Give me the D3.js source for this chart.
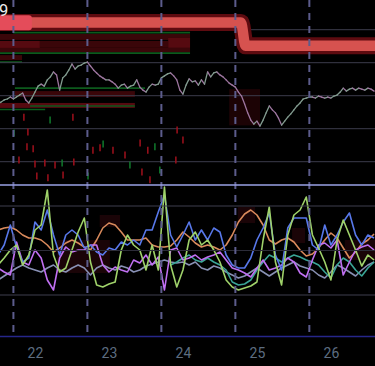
<!DOCTYPE html>
<html><head><meta charset="utf-8">
<script src="https://cdn.jsdelivr.net/npm/d3@7"></script>
<style>html,body{margin:0;padding:0;background:#000;overflow:hidden}svg{display:block}</style>
</head><body><svg id="c" width="375" height="366"></svg>
<script>
// ---------- DATA ----------
// time is in hours counted from day 21, 00:00
const dayLabels = ["22","23","24","25","26"];
const dayTicks = [24, 48, 72, 96, 120];
const sessionOpens = [17, 41, 65, 89, 113];
const lastLabel = "9";

// price (hourly, starting at hour 12)
const priceStartHour = 12;
const price = [5218.5,5219.1,5219.7,5220.0,5220.6,5220.0,5220.6,5221.2,5221.8,5219.7,
5218.8,5220.3,5222.1,5223.9,5224.5,5223.9,5225.8,5226.7,5228.2,5227.3,
5222.7,5226.4,5227.3,5228.8,5230.6,5229.1,5230.0,5230.3,5230.9,5231.2,
5230.0,5228.8,5227.9,5227.0,5226.4,5225.8,5225.8,5225.2,5224.5,5223.3,
5224.2,5224.5,5223.3,5223.9,5224.2,5225.8,5223.6,5222.7,5222.1,5223.6,
5224.5,5224.2,5224.5,5226.4,5227.0,5227.6,5227.9,5227.0,5225.8,5222.7,
5221.5,5224.2,5226.1,5225.2,5225.5,5224.2,5225.8,5224.5,5228.2,5226.7,
5227.9,5228.2,5227.3,5226.7,5225.8,5224.8,5224.2,5223.6,5222.1,5220.9,
5218.5,5215.8,5213.6,5212.4,5213.3,5211.8,5213.6,5215.8,5217.9,5216.7,
5215.8,5214.2,5212.1,5213.3,5214.5,5215.5,5216.7,5217.9,5218.8,5220.0,
5220.3,5220.6,5220.6,5220.3,5220.9,5220.6,5220.3,5220.6,5220.3,5220.9,
5221.2,5222.1,5223.3,5222.4,5223.0,5223.3,5222.7,5223.3,5223.0,5222.7,
5223.3,5223.0,5222.4];

// key level (thick red line)
const levelHours = [12, 90.8, 92.3, 135];
const levelPrices = [5243.2, 5243.2, 5236.1, 5236.1];
const hotLevel = [12, 23, 5240.8, 5245.4];

// order-book bands: [startHour, endHour, lowPrice, highPrice, strength]
const askBands = [
  [12, 74.3, 5237.9, 5239.7, 1],
  [12, 25.6, 5234.2, 5237.6, 2],
  [25.6, 67.2, 5235.5, 5237.6, 1],
  [12, 74.3, 5234.2, 5235.5, 1],
  [12, 19.8, 5231.8, 5233.3, 1],
  [67.2, 74.3, 5235.5, 5238.5, 2],
  [17.5, 56.4, 5220.6, 5222.4, 1],
  [12, 56.4, 5217.3, 5218.8, 2],
  [87, 97, 5212, 5223, 0]
];
// bid lines: [startHour, endHour, price]
const bidLines = [
  [16.9, 74.3, 5240.1],
  [12, 74.3, 5233.9],
  [12, 19.8, 5231.2],
  [70, 74.3, 5242.7],
  [17.5, 59.7, 5223.3],
  [12, 27.3, 5216.8],
  [22.4, 56.4, 5217.9]
];
// trade prints: [hour, price, side]
const prints = [
  [20.4,5214.5,"s"],[21.7,5210.0,"s"],[17.2,5209.7,"b"],[21.4,5205.5,"s"],[23.4,5204.9,"s"],
  [18.8,5201.5,"s"],[24.0,5200.3,"s"],[27.2,5200.6,"s"],[30.5,5200.0,"s"],[32.8,5200.6,"b"],
  [36.6,5200.9,"s"],[42.8,5204.5,"s"],[45.1,5205.2,"s"],[46.1,5206.4,"b"],[49.3,5204.5,"s"],
  [58.1,5206.7,"s"],[60.6,5204.5,"s"],[62.9,5205.5,"b"],[70.1,5210.6,"s"],[72.0,5207.6,"s"],
  [24.6,5196.7,"s"],[28.2,5196.1,"s"],[33.1,5197.0,"s"],[41.2,5196.7,"b"],[58.7,5197.9,"s"],
  [61.3,5195.5,"s"],[36.3,5214.5,"s"],[28.9,5213.6,"b"],[69.7,5201.5,"s"],[64.5,5198.5,"b"],
  [53.2,5203.0,"s"],[54.8,5200.0,"b"]
];

// oscillators (every 2 hours, starting at hour 12)
const oscStartHour = 12;
const oscGreen  = [30,37,45,50,30,40,65,70,105,40,23,27,45,63,77,33,10,8,11,13,45,60,50,45,25,50,25,108,30,8,25,55,63,50,55,45,33,15,8,5,7,9,13,55,88,33,10,60,80,85,98,60,47,33,15,55,75,60,45,29,40,35];
const oscBlue   = [40,50,70,48,33,37,73,65,85,60,40,60,65,60,47,50,43,40,47,45,53,50,55,50,65,65,83,100,60,48,60,73,55,65,55,67,63,40,30,27,27,37,55,67,82,40,25,67,77,77,77,50,45,70,50,60,73,82,60,50,60,57];
const oscOrange = [65,67,68,65,60,57,57,55,50,43,47,52,55,52,48,45,55,67,72,70,63,55,55,55,57,50,48,48,49,55,63,58,52,48,50,48,45,50,60,73,81,85,80,70,55,51,55,57,53,45,39,41,47,55,62,57,47,37,43,51,55,61];
const oscPurple = [27,23,20,53,33,30,45,37,15,5,37,48,43,45,45,50,50,30,23,28,25,23,35,32,40,30,38,5,45,47,35,37,40,35,38,40,43,35,27,25,22,18,27,35,25,27,30,37,33,22,18,35,50,52,47,55,20,33,45,48,50,45];
const oscGray   = [15,19,23,27,30,27,25,23,27,30,25,23,27,30,27,20,27,30,27,25,29,27,23,25,29,31,33,35,33,32,33,30,33,27,25,29,27,23,20,17,19,23,27,23,19,23,27,30,33,29,27,25,20,17,23,30,27,23,19,25,30,33];
const tealStartHour = 68;
const oscTeal   = [30,33,37,40,35,33,37,33,30,25,13,10,11,15,25,33,40,37,33,37,40,38,35,33,30,23,17,30,37,33,25,19,27,33];
// dim zones in oscillator panel: [startHour, endHour, low, high]
const oscZones = [[31.1,48.3,22,55],[45,51.6,68,80],[89.8,95.4,72,88],[107.4,111.6,52,67],[124.5,134.3,35,55]];
const priceGrid = [5241, 5231, 5221, 5211, 5201];
const oscGrid = [89, 44.5, 0];

// ---------- DRAW ----------
const W = 375, H = 366;
const svg = d3.select("#c");
svg.append("rect").attr("width", W).attr("height", H).attr("fill", "#000");

const x = d3.scaleLinear().domain([12.65, 134.3]).range([0, W]);
const y = d3.scaleLinear().domain([5194, 5250]).range([184.8, 0]);
const yo = d3.scaleLinear().domain([0, 110]).range([295, 185]);

const defs = svg.append("defs");
defs.append("clipPath").attr("id","clipTop").append("rect").attr("x",0).attr("y",0).attr("width",W).attr("height",185);
defs.append("clipPath").attr("id","clipBot").append("rect").attr("x",0).attr("y",185).attr("width",W).attr("height",110);

const gTop = svg.append("g").attr("clip-path","url(#clipTop)");
const gBot = svg.append("g").attr("clip-path","url(#clipBot)");

// bands
const bandColor = ["#1c0305","#3a0609","#560a10"];
gTop.selectAll("rect.ask").data(askBands).join("rect")
  .attr("x", d => x(d[0])).attr("width", d => x(d[1]) - x(d[0]))
  .attr("y", d => y(d[3])).attr("height", d => y(d[2]) - y(d[3]))
  .attr("fill", d => bandColor[d[4]]);
gTop.selectAll("line.bid").data(bidLines).join("line")
  .attr("x1", d => x(d[0])).attr("x2", d => x(d[1]))
  .attr("y1", d => y(d[2])).attr("y2", d => y(d[2]))
  .attr("stroke", "#0c5a1c").attr("stroke-width", 1.6);

// grid
gTop.selectAll("line.g").data(priceGrid).join("line")
  .attr("x1",0).attr("x2",W).attr("y1",d=>y(d)).attr("y2",d=>y(d))
  .attr("stroke","#3c3c4c").attr("stroke-width",1);
gBot.selectAll("rect.z").data(oscZones).join("rect")
  .attr("x", d => x(d[0])).attr("width", d => x(d[1]) - x(d[0]))
  .attr("y", d => yo(d[3])).attr("height", d => yo(d[2]) - yo(d[3]))
  .attr("fill", "#1a0407");
svg.append("g").selectAll("line").data(oscGrid).join("line")
  .attr("x1",0).attr("x2",W).attr("y1",d=>yo(d)).attr("y2",d=>yo(d))
  .attr("stroke",(d,i)=> i===1 ? "#2c2c38" : "#3e3e4e").attr("stroke-width",1);

// session dashed lines
svg.append("g").selectAll("line").data(sessionOpens).join("line")
  .attr("x1",d=>x(d)).attr("x2",d=>x(d)).attr("y1",0).attr("y2",336)
  .attr("stroke","#5c5c8c").attr("stroke-width",2).attr("stroke-dasharray","7,6");

// key level
const levelData = levelHours.map((h,i)=>[h, levelPrices[i]]);
const lvl = d3.line().x(d=>x(d[0])).y(d=>y(d[1])).curve(d3.curveMonotoneX);
gTop.append("path").attr("d", lvl(levelData)).attr("fill","none")
  .attr("stroke","#5e0b10").attr("stroke-width",17);
gTop.append("path").attr("d", lvl(levelData)).attr("fill","none")
  .attr("stroke","#d6524f").attr("stroke-width",10.5);
gTop.append("rect").attr("x", x(hotLevel[0])).attr("width", x(hotLevel[1]) - x(hotLevel[0]))
  .attr("y", y(hotLevel[3])).attr("height", y(hotLevel[2]) - y(hotLevel[3]))
  .attr("rx", 3).attr("fill", "#e44c5a");

// price line, segment coloured
const pts = price.map((p,i)=>[priceStartHour + i, p]);
gTop.append("g").selectAll("line").data(d3.pairs(pts)).join("line")
  .attr("x1",d=>x(d[0][0])).attr("y1",d=>y(d[0][1]))
  .attr("x2",d=>x(d[1][0])).attr("y2",d=>y(d[1][1]))
  .attr("stroke",d=> d[1][1] >= d[0][1] ? "#839c90" : "#9e76a0")
  .attr("stroke-width",1.3).attr("stroke-linecap","round");

// prints
gTop.append("g").selectAll("line").data(prints).join("line")
  .attr("x1",d=>x(d[0])).attr("x2",d=>x(d[0]))
  .attr("y1",d=>y(d[1])-3.5).attr("y2",d=>y(d[1])+3.5)
  .attr("stroke",d=>d[2]==="s" ? "#a0101c" : "#107a2c").attr("stroke-width",1.5);

// separator line
svg.append("line").attr("x1",0).attr("x2",W).attr("y1",yo(110)).attr("y2",yo(110))
  .attr("stroke","#9aa2e6").attr("stroke-width",1.6);

// oscillators
const oscLine = d3.line().x(d=>x(d[0])).y(d=>yo(d[1]));
const series = [
  {v: oscGray, c: "#8890b4", s: oscStartHour},
  {v: oscTeal, c: "#3aa596", s: tealStartHour},
  {v: oscOrange, c: "#d98a5c", s: oscStartHour},
  {v: oscPurple, c: "#c070f2", s: oscStartHour},
  {v: oscBlue, c: "#5878ea", s: oscStartHour},
  {v: oscGreen, c: "#9fd26a", s: oscStartHour}
];
series.forEach(sr => {
  gBot.append("path").attr("d", oscLine(sr.v.map((v,i)=>[sr.s + 2*i, v])))
    .attr("fill","none").attr("stroke",sr.c).attr("stroke-width",1.6).attr("stroke-linejoin","round");
});

// bottom axis
svg.append("line").attr("x1",0).attr("x2",W).attr("y1",336.5).attr("y2",336.5)
  .attr("stroke","#26268a").attr("stroke-width",1.5);
const ax = svg.append("g").attr("transform","translate(0,345)")
  .call(d3.axisBottom(x).tickValues(dayTicks).tickFormat((d,i)=>dayLabels[i]).tickSize(0).tickPadding(0));
ax.select(".domain").remove();
ax.selectAll("text").attr("fill","#5d6d80").attr("font-size","14px")
  .attr("font-family","Roboto, 'Noto Sans', sans-serif").attr("dy","0.9em");

// last price label
svg.append("text").attr("x",-1).attr("y",15.5).text(lastLabel)
  .attr("fill","#ececec").attr("font-size","16.5px").attr("font-family","Roboto, 'Noto Sans', sans-serif");
</script></body></html>
